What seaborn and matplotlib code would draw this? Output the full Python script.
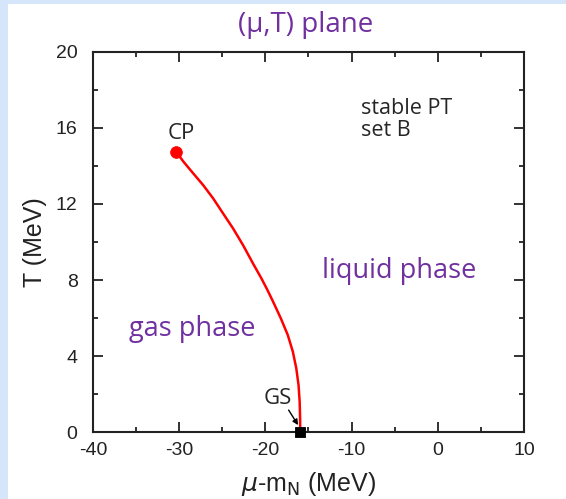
import numpy as np
import pandas as pd
import matplotlib
matplotlib.use("Agg")
import matplotlib.pyplot as plt
from matplotlib.patches import Rectangle
from matplotlib.ticker import MultipleLocator
import seaborn as sns

# Coexistence line (mu - m_N in MeV, T in MeV)
mu_line = [-30.30, -29.50, -28.38, -27.22, -26.06, -24.91, -23.75, -22.59, -21.44,
           -20.46, -19.75, -19.10, -18.20, -17.40, -16.81, -16.41, -16.15, -16.02,
           -15.97, -15.95]
T_line = [14.72, 14.23, 13.62, 13.00, 12.30, 11.51, 10.72, 9.84, 8.88,
          8.09, 7.47, 6.86, 5.98, 5.11, 4.23, 3.35, 2.47, 1.59,
          0.72, 0.0]

# Special points
cp_mu, cp_T = [-30.30], [14.72]
gs_mu, gs_T = [-15.95], [0.0]

# Axis settings
x_ticks = [-40, -30, -20, -10, 0, 10]
y_ticks = [0, 4, 8, 12, 16, 20]

purple = "#7030a0"
blue_bg = "#d5e6fa"
ink = "#222222"

sns.set_theme(style="ticks")
plt.rcParams["font.family"] = ["Liberation Sans", "DejaVu Sans"]
plt.rcParams["axes.unicode_minus"] = False

fig = plt.figure(figsize=(5.66, 4.99), dpi=100, facecolor=blue_bg)
fig.patches.append(Rectangle((8 / 566, 0), 1, 1 - 4 / 499, transform=fig.transFigure,
                             facecolor="white", edgecolor="none", zorder=-5))
ax = fig.add_axes([0.164, 0.134, 0.762, 0.762])

line_df = pd.DataFrame({"mu": mu_line, "T": T_line})
sns.lineplot(data=line_df, x="mu", y="T", sort=False, color="red", linewidth=1.8, ax=ax)
sns.scatterplot(x=cp_mu, y=cp_T, color="red", s=70, edgecolor="red", zorder=5, ax=ax)
sns.scatterplot(x=gs_mu, y=gs_T, color="black", marker="s", s=60, edgecolor="black",
                zorder=5, clip_on=False, ax=ax)

ax.set_xlim(-40, 10)
ax.set_ylim(0, 20)
ax.set_xticks(x_ticks)
ax.set_yticks(y_ticks)
ax.xaxis.set_minor_locator(MultipleLocator(5))
ax.yaxis.set_minor_locator(MultipleLocator(2))
ax.tick_params(which="both", direction="in", top=True, right=True, width=1.3,
               color=ink, labelsize=14, labelcolor=ink)
ax.tick_params(axis="x", which="both", pad=7)
ax.tick_params(axis="y", which="both", pad=11)
ax.tick_params(which="major", length=7)
ax.tick_params(which="minor", length=3.6)
for s in ax.spines.values():
    s.set_linewidth(1.5)
    s.set_color(ink)
    s.set_visible(True)

ax.set_xlabel(r"$\mu$-m$_\mathrm{N}$ (MeV)", fontsize=18, color=ink, labelpad=8)
ax.set_ylabel("T (MeV)", fontsize=18, color=ink, labelpad=6)
ax.set_facecolor("white")

# Annotations
ax.text(-29.7, 15.15, "CP", fontsize=16, ha="center", va="bottom", family="Open Sans")
ax.text(-18.57, 1.75, "GS", fontsize=16, ha="center", va="center", family="Open Sans")
ax.annotate("", xy=(-16.2, 0.37), xytext=(-17.3, 1.16),
            arrowprops=dict(arrowstyle="-|>", color="black", lw=1, mutation_scale=8,
                            shrinkA=0, shrinkB=0))
ax.text(-8.9, 17.6, "stable PT\nset B", fontsize=15.5, ha="left", va="top",
        family="Open Sans", linespacing=1.1)
ax.text(-4.5, 8.45, "liquid phase", fontsize=19.5, color=purple, ha="center",
        va="center", family="Open Sans")
ax.text(-28.47, 5.45, "gas phase", fontsize=19.5, color=purple, ha="center",
        va="center", family="Open Sans")
fig.text(305.5 / 566, 1 - 25 / 499, "(\u03bc,T) plane", fontsize=20, color=purple,
         ha="center", va="center", family="Open Sans")

fig.savefig("out.png", dpi=100, facecolor=blue_bg)
